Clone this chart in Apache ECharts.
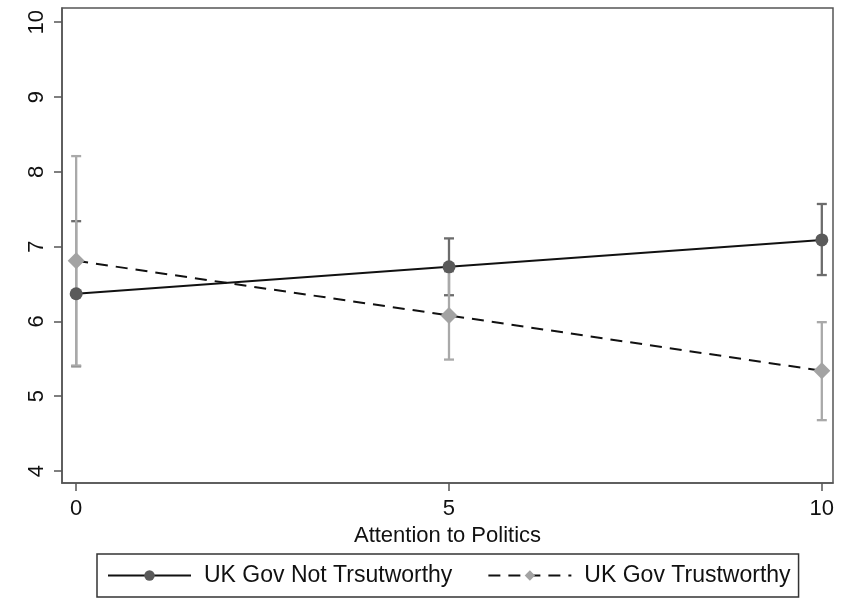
<!DOCTYPE html>
<html>
<head>
<meta charset="utf-8">
<script src="https://cdn.jsdelivr.net/npm/echarts@6/dist/echarts.min.js"></script>
<style>
html,body{margin:0;padding:0;background:#fff;}
#chart{width:841px;height:602px;}
</style>
</head>
<body>
<div id="chart"></div>
<script>
const xValues = [0, 5, 10];
const notTrustMean = [6.37, 6.73, 7.09];
const notTrustLow = [5.40, 6.35, 6.62];
const notTrustHigh = [7.34, 7.11, 7.57];
const trustMean = [6.81, 6.08, 5.34];
const trustLow = [5.41, 5.49, 4.68];
const trustHigh = [8.21, 6.67, 5.99];
const xTicks = [0, 5, 10];
const yTicks = [4, 5, 6, 7, 8, 9, 10];
const seriesNames = ['UK Gov Not Trsutworthy', 'UK Gov Trustworthy'];
const xTitle = 'Attention to Politics';

const FONT = '"Liberation Sans", Arial, sans-serif';

function pairs(xs, ys) { return xs.map((x, i) => [x, ys[i]]); }
function triples(xs, lo, hi) { return xs.map((x, i) => [x, lo[i], hi[i]]); }

function errorBar(color) {
  return function (params, api) {
    const x = api.value(0), lo = api.value(1), hi = api.value(2);
    const a = api.coord([x, lo]);
    const b = api.coord([x, hi]);
    const hw = 5;
    const st = { stroke: color, lineWidth: 2.3 };
    return {
      type: 'group',
      children: [
        { type: 'line', shape: { x1: a[0], y1: a[1], x2: b[0], y2: b[1] }, style: st },
        { type: 'line', shape: { x1: a[0] - hw, y1: a[1], x2: a[0] + hw, y2: a[1] }, style: st },
        { type: 'line', shape: { x1: b[0] - hw, y1: b[1], x2: b[0] + hw, y2: b[1] }, style: st }
      ]
    };
  };
}

const chart = echarts.init(document.getElementById('chart'), null, { renderer: 'canvas' });
chart.setOption({
  animation: false,
  backgroundColor: '#ffffff',
  textStyle: { fontFamily: FONT },
  grid: {
    left: 62, right: 8, top: 8, bottom: 119,
    show: true, borderColor: '#555', borderWidth: 1.5, backgroundColor: '#fff'
  },
  xAxis: {
    type: 'value', min: -0.19, max: 10.15,
    name: xTitle, nameLocation: 'middle', nameGap: 32,
    nameTextStyle: { fontFamily: FONT, fontSize: 22, color: '#111' },
    axisLine: { show: true, onZero: false, lineStyle: { color: '#555', width: 1.5 } },
    axisTick: { show: true, length: 8, customValues: xTicks, lineStyle: { color: '#555', width: 1.5 } },
    axisLabel: { customValues: xTicks, fontFamily: FONT, fontSize: 22, color: '#111', margin: 15 },
    splitLine: { show: false }
  },
  yAxis: {
    type: 'value', min: 3.84, max: 10.19,
    axisLine: { show: true, onZero: false, lineStyle: { color: '#555', width: 1.5 } },
    axisTick: { show: true, length: 8, customValues: yTicks, lineStyle: { color: '#555', width: 1.5 } },
    axisLabel: { customValues: yTicks, rotate: 90, fontFamily: FONT, fontSize: 22, color: '#111', margin: 14 },
    splitLine: { show: false }
  },
  legend: {
    data: seriesNames,
    left: 97, top: 554,
    orient: 'horizontal',
    padding: [10, 8, 10, 10],
    itemGap: 35,
    itemWidth: 83, itemHeight: 13,
    borderColor: '#333', borderWidth: 1.5,
    textStyle: { fontFamily: FONT, fontSize: 23, color: '#111', padding: [0, 0, 0, 8] }
  },
  series: [
    {
      type: 'custom', name: 'ciNot', renderItem: errorBar('#6c6c6c'),
      data: triples(xValues, notTrustLow, notTrustHigh), z: 2, silent: true
    },
    {
      type: 'custom', name: 'ciTrust', renderItem: errorBar('#a9a9a9'),
      data: triples(xValues, trustLow, trustHigh), z: 2, silent: true
    },
    {
      type: 'line', name: seriesNames[1],
      data: pairs(xValues, trustMean),
      symbol: 'diamond', symbolSize: 17,
      itemStyle: { color: '#a3a3a3' },
      lineStyle: { color: '#111', width: 2, type: [12, 8] },
      z: 3
    },
    {
      type: 'line', name: seriesNames[0],
      data: pairs(xValues, notTrustMean),
      symbol: 'circle', symbolSize: 13,
      itemStyle: { color: '#5a5a5a' },
      lineStyle: { color: '#111', width: 2, type: 'solid' },
      z: 4
    }
  ]
});
</script>
</body>
</html>
